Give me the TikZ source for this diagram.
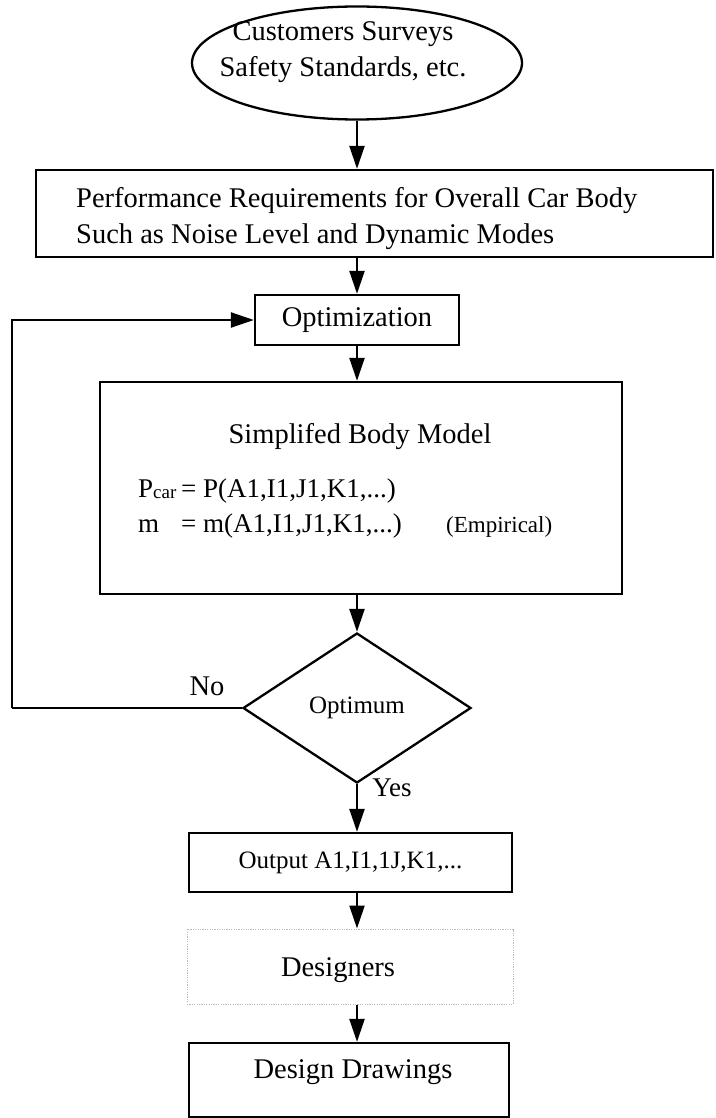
\documentclass[tikz,border=0pt]{standalone}
\usepackage{fontspec}
\setmainfont{Liberation Serif}
\usetikzlibrary{arrows.meta,shapes.geometric}

\tikzset{
  big/.style={font=\fontsize{28.5}{36}\selectfont},
  mid/.style={font=\fontsize{25}{30}\selectfont},
  eqfont/.style={font=\fontsize{27}{32}\selectfont},
  stepbox/.style={draw, line width=2.3pt, inner sep=0pt, rectangle},
  softbox/.style={draw=gray!55, line width=1pt, dash pattern=on 1.2pt off 1.2pt, inner sep=0pt, rectangle},
  txt/.style={inner sep=0pt},
  arr/.style={line width=2.3pt, -{Triangle[length=23pt,width=15pt]}},
  link/.style={line width=2.3pt}
}

\begin{document}
\begin{tikzpicture}[x=1pt,y=-1pt]
\useasboundingbox (0,0) rectangle (715,1118);

% source of requirements
\node[draw, line width=2.3pt, ellipse, minimum width=330pt, minimum height=113pt, inner sep=0pt] (src) at (357,63) {};
\node[txt, big, align=center] (srctxt) at (343,52) {Customers Surveys\\Safety Standards, etc.};

% overall requirements
\node[stepbox, minimum width=677pt, minimum height=87pt] (req) at (374.5,213.5) {};
\node[txt, big, align=left, anchor=west] (reqtxt) at (76,219) {Performance Requirements for Overall Car Body\\Such as Noise Level and Dynamic Modes};

% optimization loop
\node[stepbox, big, minimum width=204pt, minimum height=50pt] (opt) at (357,320) {Optimization};

\node[stepbox, minimum width=522pt, minimum height=212pt] (body) at (361,488) {};
\node[txt, big] (bodytitle) at (360,437) {Simplifed Body Model};
\node[txt, eqfont, anchor=base west] (pl) at (138,497) {P\raisebox{-1pt}{\fontsize{19}{20}\selectfont car}};
\node[txt, eqfont, anchor=base west] (pr) at (181,497) {= P(A1,I1,J1,K1,...)};
\node[txt, eqfont, anchor=base west] (ml) at (138,532) {m};
\node[txt, eqfont, anchor=base west] (mr) at (181,532) {= m(A1,I1,J1,K1,...)};
\node[txt, font=\fontsize{23}{28}\selectfont, anchor=base west] (emp) at (446,532) {(Empirical)};

\node[draw, line width=2.3pt, diamond, minimum width=228pt, minimum height=150pt, inner sep=0pt, mid] (dia) at (357,708) {Optimum};
\node[txt, big] (nolbl) at (207,686) {No};
\node[txt, font=\fontsize{27}{32}\selectfont] (yeslbl) at (392,788) {Yes};

% results
\node[stepbox, mid, minimum width=323pt, minimum height=59pt] (out) at (350.5,862.5) {Output A1,I1,1J,K1,...};
\node[softbox, minimum width=326pt, minimum height=75pt] (des) at (350,966.5) {};
\node[txt, big] (destxt) at (338,970) {Designers};
\node[stepbox, minimum width=320pt, minimum height=74pt] (drw) at (349,1080) {};
\node[txt, big] (drwtxt) at (353,1072) {Design Drawings};

% connectors
\draw[arr] (src.south) -- (src.south |- req.north);
\draw[arr] (opt.north |- req.south) -- (opt.north);
\draw[arr] (opt.south) -- (opt.south |- body.north);
\draw[arr] (dia.north |- body.south) -- (dia.north);
\draw[arr] (dia.south) -- (dia.south |- out.north);
\draw[arr] (dia.south |- out.south) -- (dia.south |- des.north);
\draw[arr] (dia.south |- des.south) -- (dia.south |- drw.north);

\coordinate (loopbot) at (12,708);
\draw[link] (dia.west) -- (loopbot);
\draw[arr] (loopbot) -- (loopbot |- opt.west) -- (opt.west);
\end{tikzpicture}
\end{document}
